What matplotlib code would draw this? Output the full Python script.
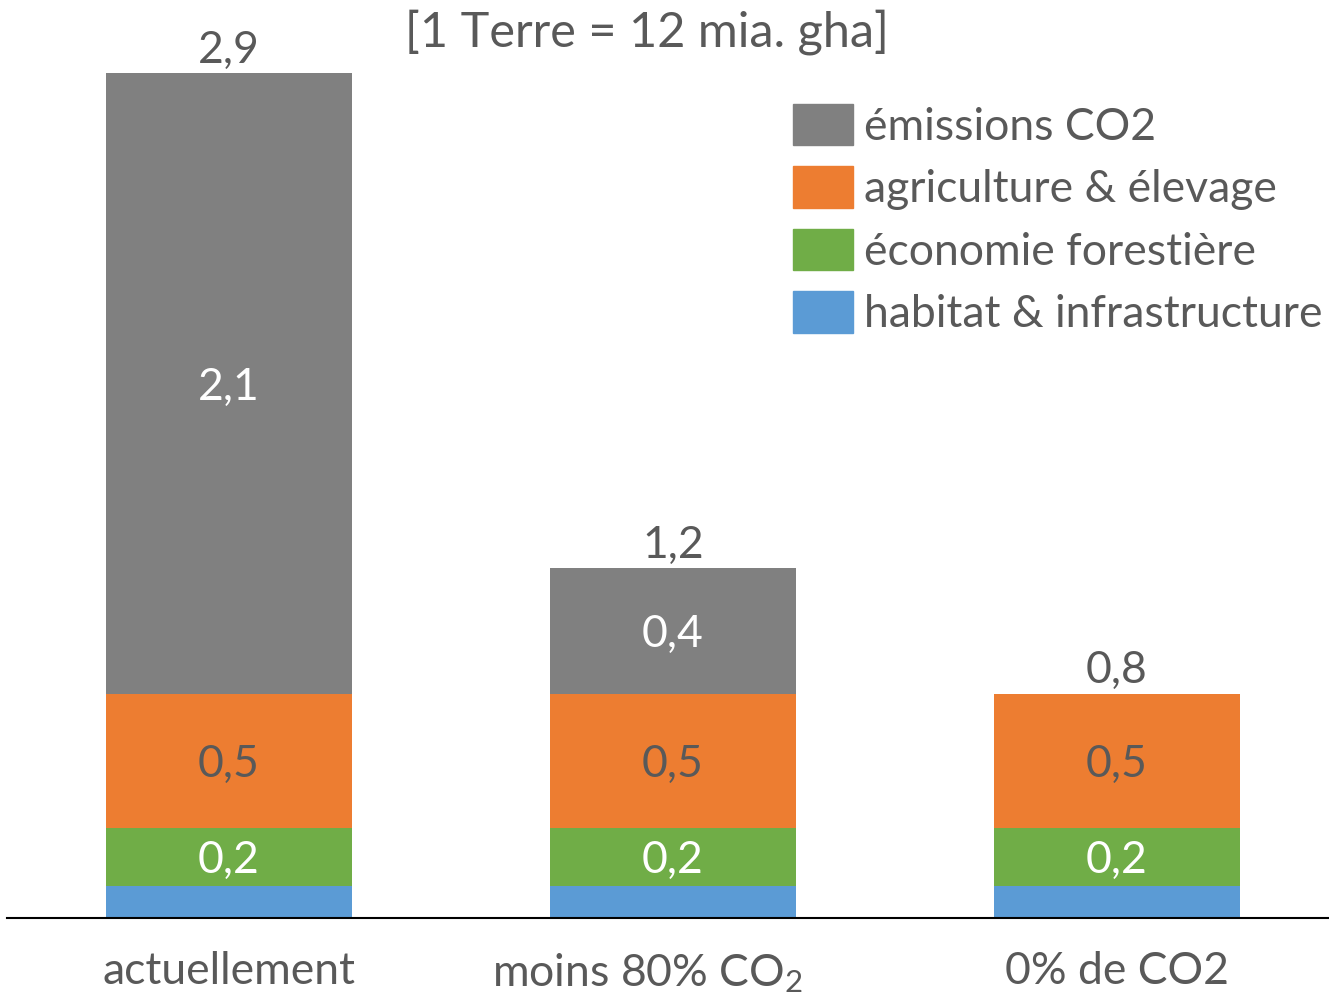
import matplotlib
matplotlib.use("Agg")

import numpy as np
import matplotlib.pyplot as plt
import matplotlib.transforms as mtransforms
from matplotlib.patches import Patch

# ── Data ────────────────────────────────────────────────────────────
categories = ["actuellement", "moins 80% CO$_2$", "0% de CO2"]
habitat = [0.11, 0.11, 0.11]
foret = [0.20, 0.20, 0.20]
agriculture = [0.46, 0.46, 0.46]
co2 = [2.13, 0.43, 0.0]
totals_lbl = ["2,9", "1,2", "0,8"]
co2_lbl = ["2,1", "0,4", None]
agri_lbl = ["0,5", "0,5", "0,5"]
foret_lbl = ["0,2", "0,2", "0,2"]
legend_labels = ["émissions CO2", "agriculture & élevage",
                 "économie forestière", "habitat & infrastructure"]
title = "[1 Terre = 12 mia. gha]"

# ── Style ───────────────────────────────────────────────────────────
plt.rcParams["font.family"] = ["Lato", "DejaVu Sans"]
plt.rcParams["mathtext.fontset"] = "custom"
plt.rcParams["mathtext.rm"] = "Lato"
plt.rcParams["mathtext.it"] = "Lato"
TXT = "#595959"
C_GRAY, C_ORANGE, C_GREEN, C_BLUE = "#808080", "#ED7D31", "#70AD47", "#5B9BD5"
FS = 32

W, H = 1329, 993
fig = plt.figure(figsize=(W / 100, H / 100), dpi=100)
base = (H - 918) / H
ax = fig.add_axes([7 / W, base, 1332 / W, 874.5 / H])

x = np.arange(len(categories))
bw = 0.554
hab = np.array(habitat)
fo = np.array(foret)
ag = np.array(agriculture)
c2 = np.array(co2)

ax.bar(x, hab, bw, color=C_BLUE)
ax.bar(x, fo, bw, bottom=hab, color=C_GREEN)
ax.bar(x, ag, bw, bottom=hab + fo, color=C_ORANGE)
ax.bar(x, c2, bw, bottom=hab + fo + ag, color=C_GRAY)

# segment labels
for i in range(len(x)):
    ax.text(x[i], hab[i] + fo[i] / 2, foret_lbl[i], ha="center",
            va="center_baseline", color="white", fontsize=FS)
    ax.text(x[i], hab[i] + fo[i] + ag[i] / 2, agri_lbl[i], ha="center",
            va="center_baseline", color=TXT, fontsize=FS)
    if co2_lbl[i]:
        ax.text(x[i], hab[i] + fo[i] + ag[i] + c2[i] / 2, co2_lbl[i],
                ha="center", va="center_baseline", color="white", fontsize=FS)
    top = hab[i] + fo[i] + ag[i] + c2[i]
    ax.text(x[i], top + 0.035, totals_lbl[i], ha="center", va="baseline",
            color=TXT, fontsize=FS)

ax.set_xlim(-0.5, 2.5)
ax.set_ylim(0, 3.0)
ax.set_xticks(x)
ax.set_xticklabels(categories, fontsize=FS, color=TXT)
ax.tick_params(axis="x", length=0, pad=24)
# middle label sits a bit left of its bar in the original
lbl = ax.get_xticklabels()[1]
lbl.set_transform(lbl.get_transform() +
                  mtransforms.ScaledTranslation(-0.26, 0, fig.dpi_scale_trans))
ax.set_yticks([])
for s in ["top", "right", "left"]:
    ax.spines[s].set_visible(False)
ax.spines["bottom"].set_color("black")
ax.spines["bottom"].set_linewidth(1.5)

fig.text(647 / W, 1 - 32 / H, title, ha="center", va="center",
         fontsize=35, color=TXT)

handles = [Patch(color=c) for c in [C_GRAY, C_ORANGE, C_GREEN, C_BLUE]]
leg = fig.legend(handles, legend_labels, loc="upper left",
                 bbox_to_anchor=(793 / W, 1 - 104 / H), frameon=False,
                 fontsize=FS, handlelength=1.35, handleheight=1.05,
                 handletextpad=0.25, labelspacing=0.42, borderpad=0,
                 borderaxespad=0)
for t in leg.get_texts():
    t.set_color(TXT)

fig.savefig("out.png", dpi=100)
